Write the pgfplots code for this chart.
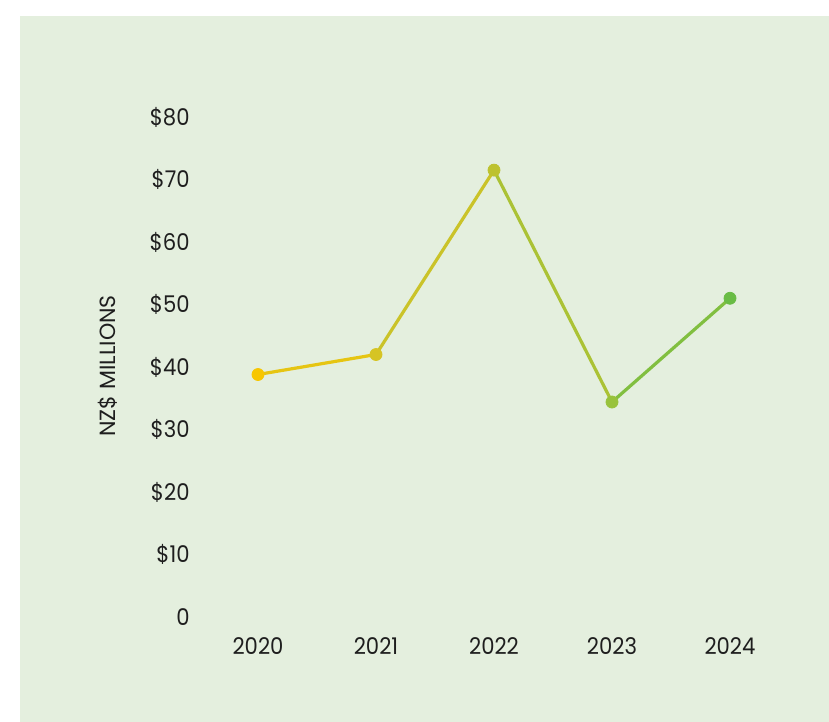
\documentclass[border=0pt]{standalone}
\usepackage{pgfplots}
\pgfplotsset{compat=1.18}
\usepackage{fontspec}
\setmainfont{Poppins}
\newfontfamily\tickfont[FakeStretch=0.92]{Poppins}
\definecolor{bgc}{RGB}{228,239,222}
\definecolor{txt}{RGB}{30,30,30}
\begin{document}
\begin{tikzpicture}[x=1bp,y=1bp]
\path (0,0) rectangle (414.5,361);
\fill[bgc] (10,0) rectangle (414.5,353);
\begin{axis}[
  at={(99.5bp,52.5bp)}, anchor=south west,
  scale only axis, width=295bp, height=250bp,
  xmin=2019.5, xmax=2024.5, ymin=0, ymax=80,
  axis line style={draw=none},
  tick style={draw=none},
  xtick={2020,2021,2022,2023,2024},
  xticklabels={2020,2021,2022,2023,2024},
  ytick={0,10,20,30,40,50,60,70,80},
  yticklabels={0,\$10,\$20,\$30,\$40,\$50,\$60,\$70,\$80},
  major tick length=0pt,
  tick label style={font=\tickfont\fontsize{11.5bp}{13bp}\selectfont, text=txt},
  yticklabel style={anchor=east, inner sep=0pt, xshift=-4.5bp},
  xticklabel style={anchor=north, inner sep=0pt, yshift=-10bp},
  colormap={grad}{rgb255(0cm)=(247,198,0) rgb255(1cm)=(214,196,36) rgb255(2cm)=(189,194,47) rgb255(3cm)=(152,194,60) rgb255(4cm)=(105,188,69)},
  clip=false,
]
\addplot[mesh, point meta=x, line width=1.6bp] coordinates {
  (2020,38.8) (2021,42.0) (2022,71.5) (2023,34.4) (2024,51.0)};
\addplot[scatter, only marks, mark=*, mark size=3bp, point meta=x,
  scatter/use mapped color={draw=mapped color, fill=mapped color}] coordinates {
  (2020,38.8) (2021,42.0) (2022,71.5) (2023,34.4) (2024,51.0)};
\end{axis}
\node[rotate=90, text=txt, font=\fontsize{11bp}{12bp}\selectfont] at (54,178) {NZ\$ MILLIONS};
\end{tikzpicture}
\end{document}
